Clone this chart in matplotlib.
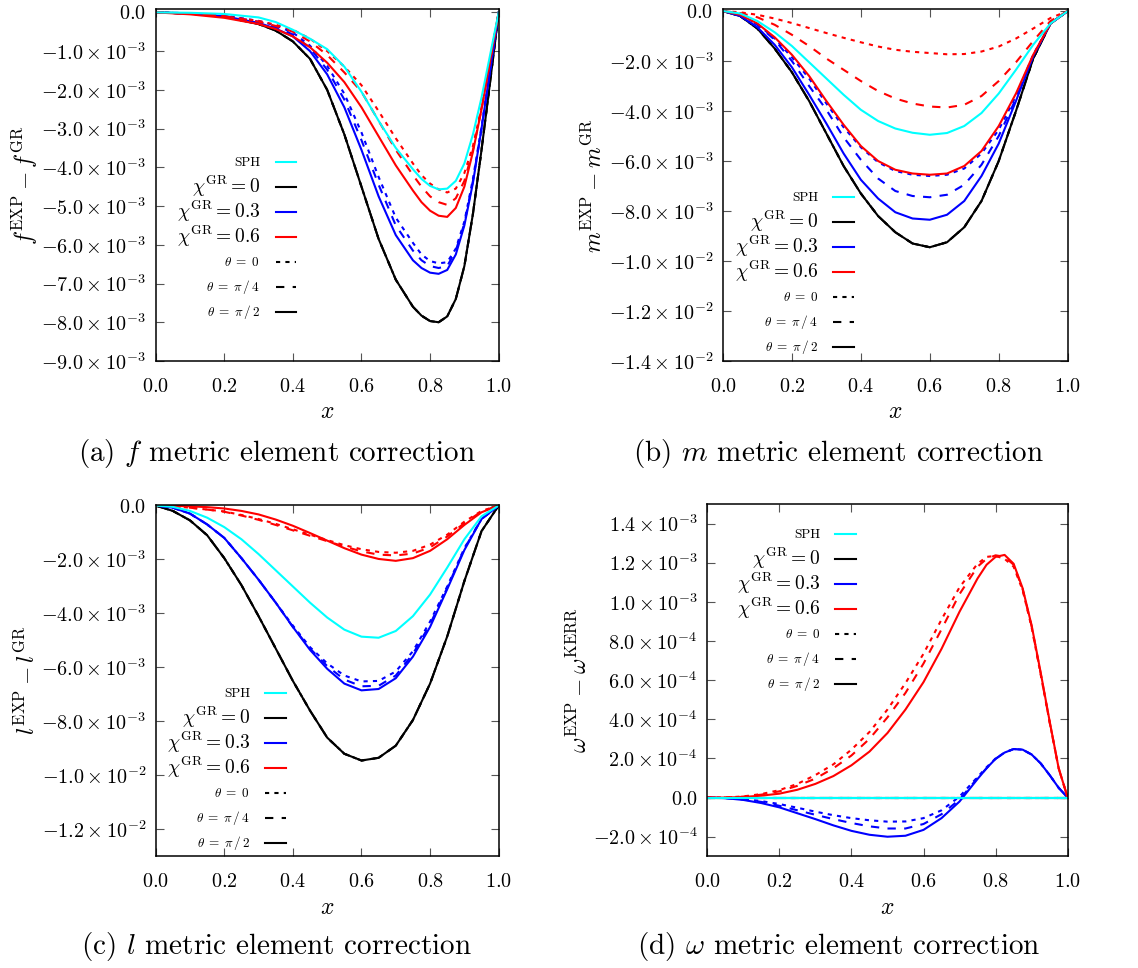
import numpy as np
import matplotlib
matplotlib.use("Agg")
import matplotlib.pyplot as plt
from matplotlib.lines import Line2D
from matplotlib.ticker import FuncFormatter
from matplotlib.transforms import offset_copy

plt.rcParams["font.family"] = "serif"
plt.rcParams["font.serif"] = ["cmr10"]
plt.rcParams["mathtext.fontset"] = "cm"
plt.rcParams["axes.unicode_minus"] = False

# ---- (a) f correction, units of 1e-3
x_a = [0.0, 0.1, 0.2, 0.3, 0.35, 0.4, 0.45, 0.5, 0.55, 0.6, 0.65, 0.7, 0.75,
       0.775, 0.8, 0.825, 0.85, 0.875, 0.9, 0.925, 0.95, 0.975, 1.0]
f_sph = [0, -0.01, -0.04, -0.13, -0.25, -0.45, -0.68, -0.95, -1.4, -2.05, -2.8, -3.5, -4.05,
         -4.3, -4.48, -4.57, -4.55, -4.35, -3.9, -3.15, -2.2, -1.1, 0]
f_chi0 = [0, -0.03, -0.11, -0.3, -0.47, -0.75, -1.2, -2.0, -3.15, -4.5, -5.85, -6.9, -7.6,
          -7.83, -7.97, -8.0, -7.85, -7.4, -6.55, -5.2, -3.55, -1.8, 0]
f_chi3_t0 = [0, -0.02, -0.08, -0.22, -0.34, -0.52, -0.86, -1.38, -2.1, -3.1, -4.25, -5.3, -5.95,
             -6.25, -6.42, -6.48, -6.45, -6.1, -5.4, -4.3, -2.95, -1.5, 0]
f_chi3_t4 = [0, -0.03, -0.09, -0.24, -0.38, -0.57, -0.92, -1.48, -2.25, -3.3, -4.45, -5.5, -6.15,
             -6.4, -6.55, -6.6, -6.55, -6.15, -5.45, -4.35, -3.0, -1.5, 0]
f_chi3_t2 = [0, -0.03, -0.1, -0.27, -0.42, -0.62, -1.0, -1.6, -2.45, -3.55, -4.75, -5.75, -6.4,
             -6.6, -6.72, -6.75, -6.65, -6.25, -5.5, -4.4, -3.0, -1.5, 0]
f_chi6_t0 = [0, -0.03, -0.1, -0.22, -0.32, -0.45, -0.68, -1.0, -1.4, -1.88, -2.55, -3.25, -3.9,
             -4.2, -4.42, -4.57, -4.65, -4.55, -4.15, -3.45, -2.45, -1.25, 0]
f_chi6_t4 = [0, -0.03, -0.1, -0.24, -0.35, -0.5, -0.75, -1.1, -1.55, -2.05, -2.8, -3.55, -4.2,
             -4.5, -4.75, -4.9, -4.97, -4.8, -4.35, -3.55, -2.5, -1.25, 0]
f_chi6_t2 = [0, -0.05, -0.14, -0.3, -0.43, -0.62, -0.9, -1.3, -1.8, -2.45, -3.2, -3.95, -4.6,
             -4.9, -5.12, -5.25, -5.28, -5.05, -4.5, -3.6, -2.5, -1.25, 0]

# ---- (b) m correction, units of 1e-3
x_b = [0.0, 0.05, 0.1, 0.15, 0.2, 0.25, 0.3, 0.35, 0.4, 0.45, 0.5,
       0.55, 0.6, 0.65, 0.7, 0.75, 0.8, 0.85, 0.9, 0.95, 1.0]
m_sph = [0, -0.1, -0.4, -0.85, -1.4, -2.05, -2.7, -3.35, -3.95, -4.4, -4.7,
         -4.87, -4.95, -4.88, -4.6, -4.08, -3.3, -2.35, -1.35, -0.5, 0]
m_chi0 = [0, -0.2, -0.7, -1.5, -2.45, -3.6, -4.9, -6.2, -7.3, -8.2, -8.85,
          -9.3, -9.45, -9.25, -8.65, -7.6, -6.0, -4.0, -1.9, -0.5, 0]
m_chi3_t0 = [0, -0.16, -0.52, -1.1, -1.85, -2.7, -3.7, -4.65, -5.45, -6.05, -6.4,
             -6.55, -6.6, -6.55, -6.3, -5.7, -4.75, -3.4, -1.75, -0.5, 0]
m_chi3_t4 = [0, -0.17, -0.55, -1.15, -2.0, -3.0, -3.95, -5.05, -5.95, -6.7, -7.2,
             -7.4, -7.45, -7.35, -6.95, -6.15, -5.0, -3.5, -1.8, -0.5, 0]
m_chi3_t2 = [0, -0.2, -0.65, -1.35, -2.25, -3.35, -4.5, -5.7, -6.75, -7.5, -8.05,
             -8.3, -8.35, -8.15, -7.6, -6.6, -5.3, -3.6, -1.8, -0.5, 0]
m_chi6_t0 = [0, -0.05, -0.15, -0.3, -0.48, -0.68, -0.88, -1.07, -1.25, -1.42, -1.55,
             -1.63, -1.68, -1.73, -1.72, -1.62, -1.42, -1.1, -0.7, -0.28, 0]
m_chi6_t4 = [0, -0.08, -0.25, -0.55, -0.95, -1.4, -1.9, -2.35, -2.8, -3.2, -3.5,
             -3.7, -3.82, -3.86, -3.75, -3.4, -2.8, -2.05, -1.2, -0.4, 0]
m_chi6_t2 = [0, -0.15, -0.5, -1.05, -1.75, -2.6, -3.6, -4.55, -5.4, -6.0, -6.35,
             -6.5, -6.55, -6.5, -6.2, -5.6, -4.6, -3.3, -1.75, -0.5, 0]

# ---- (c) l correction, units of 1e-3
x_c = x_b
l_sph = [0, -0.05, -0.2, -0.45, -0.8, -1.25, -1.8, -2.4, -3.0, -3.6, -4.15,
         -4.6, -4.86, -4.9, -4.65, -4.1, -3.3, -2.3, -1.25, -0.4, 0]
l_chi0 = [0, -0.2, -0.55, -1.1, -1.95, -2.95, -4.1, -5.3, -6.5, -7.6, -8.6,
          -9.2, -9.45, -9.35, -8.9, -7.95, -6.6, -4.85, -2.8, -0.95, 0]
l_chi3_t0 = [0, -0.08, -0.3, -0.7, -1.2, -1.95, -2.75, -3.6, -4.45, -5.25, -5.85,
             -6.3, -6.52, -6.5, -6.15, -5.4, -4.3, -3.0, -1.58, -0.5, 0]
l_chi3_t4 = [0, -0.08, -0.3, -0.7, -1.2, -1.95, -2.75, -3.6, -4.5, -5.3, -5.95,
             -6.45, -6.7, -6.68, -6.3, -5.5, -4.4, -3.05, -1.6, -0.5, 0]
l_chi3_t2 = [0, -0.08, -0.3, -0.7, -1.2, -1.95, -2.75, -3.6, -4.5, -5.35, -6.05,
             -6.6, -6.85, -6.8, -6.4, -5.6, -4.5, -3.1, -1.65, -0.5, 0]
l_chi6_t0 = [0, -0.03, -0.08, -0.15, -0.22, -0.35, -0.5, -0.68, -0.88, -1.08, -1.28,
             -1.47, -1.62, -1.72, -1.75, -1.68, -1.45, -1.08, -0.6, -0.2, 0]
l_chi6_t4 = [0, -0.03, -0.08, -0.15, -0.23, -0.37, -0.53, -0.72, -0.92, -1.12, -1.32,
             -1.52, -1.7, -1.82, -1.85, -1.78, -1.55, -1.15, -0.65, -0.22, 0]
l_chi6_t2 = [0, -0.01, -0.03, -0.06, -0.11, -0.2, -0.33, -0.52, -0.75, -1.02, -1.3,
             -1.58, -1.82, -1.98, -2.05, -1.95, -1.68, -1.25, -0.72, -0.25, 0]

# ---- (d) omega correction, units of 1e-4
x_d = [0.0, 0.05, 0.1, 0.15, 0.2, 0.25, 0.3, 0.35, 0.4, 0.45, 0.5, 0.55, 0.6, 0.65,
       0.7, 0.75, 0.775, 0.8, 0.825, 0.85, 0.875, 0.9, 0.925, 0.95, 0.975, 1.0]
w_sph = [0] * 26
w_chi0 = [0] * 26
w_chi3_t0 = [0, -0.02, -0.08, -0.18, -0.33, -0.52, -0.72, -0.9, -1.05, -1.16, -1.23, -1.22, -1.05, -0.65,
             0.05, 1.05, 1.55, 2.0, 2.3, 2.48, 2.45, 2.2, 1.75, 1.15, 0.5, 0]
w_chi3_t4 = [0, -0.02, -0.1, -0.22, -0.42, -0.65, -0.88, -1.1, -1.3, -1.47, -1.58, -1.58, -1.35, -0.85,
             -0.1, 1.0, 1.5, 1.98, 2.3, 2.48, 2.45, 2.2, 1.75, 1.15, 0.5, 0]
w_chi3_t2 = [0, -0.03, -0.12, -0.28, -0.5, -0.8, -1.1, -1.42, -1.7, -1.9, -2.0, -1.95, -1.65, -1.05,
             -0.2, 0.95, 1.5, 1.98, 2.3, 2.48, 2.45, 2.2, 1.75, 1.15, 0.5, 0]
w_chi6_t0 = [0, 0.0, 0.06, 0.18, 0.38, 0.7, 1.15, 1.7, 2.45, 3.35, 4.5, 5.85, 7.35, 9.1,
             10.75, 11.95, 12.3, 12.35, 12.2, 11.8, 10.6, 8.7, 6.3, 3.85, 1.5, 0]
w_chi6_t4 = [0, 0.0, 0.05, 0.15, 0.32, 0.6, 0.97, 1.5, 2.15, 3.0, 4.1, 5.35, 6.85, 8.6,
             10.4, 11.8, 12.2, 12.38, 12.3, 11.9, 10.65, 8.75, 6.35, 3.85, 1.5, 0]
w_chi6_t2 = [0, 0.0, 0.03, 0.1, 0.2, 0.4, 0.7, 1.1, 1.65, 2.35, 3.3, 4.5, 5.9, 7.6,
             9.5, 11.2, 11.9, 12.3, 12.4, 11.95, 10.7, 8.8, 6.4, 3.9, 1.5, 0]

captions = [r"(a) $f$ metric element correction",
            r"(b) $m$ metric element correction",
            r"(c) $l$ metric element correction",
            r"(d) $\omega$ metric element correction"]
ylabels = [r"$f^{\rm EXP} - f^{\rm GR}$",
           r"$m^{\rm EXP} - m^{\rm GR}$",
           r"$l^{\rm EXP} - l^{\rm GR}$",
           r"$\omega^{\rm EXP} - \omega^{\rm KERR}$"]
key_labels = ["SPH", r"$\chi^{\rm GR} = 0$", r"$\chi^{\rm GR} = 0.3$",
              r"$\chi^{\rm GR} = 0.6$", r"$\theta\;=\;0$", r"$\theta\;=\;\pi\,/\,4$",
              r"$\theta\;=\;\pi\,/\,2$"]

DOT = (0, (2, 2.5))
DASH = (0, (4, 4))
CYAN = "#00ffff"
BLUE = "#0000ff"
RED = "#ff0000"
LW = 1.5


def sci_fmt(v, pos):
    if abs(v) < 1e-12:
        return "$0.0$"
    e = int(np.floor(np.log10(abs(v)) + 1e-9))
    m = v / 10.0 ** e
    return r"$%.1f\times10^{%d}$" % (m, e)


def draw_panel(ax, xs, scale, sph, chi0, chi3, chi6):
    xs = np.array(xs)
    for style in [DOT, DASH, "-"]:
        ax.plot(xs, np.array(chi0) * scale, color="black", lw=LW, ls=style)
    for ys, style in zip(chi3, [DOT, DASH, "-"]):
        ax.plot(xs, np.array(ys) * scale, color=BLUE, lw=LW, ls=style)
    for ys, style in zip(chi6, [DOT, DASH, "-"]):
        ax.plot(xs, np.array(ys) * scale, color=RED, lw=LW, ls=style)
    ax.plot(xs, np.array(sph) * scale, color=CYAN, lw=LW)


def style_axes(ax, ylim, yticks, ylabel):
    ax.set_xlim(0, 1)
    ax.set_ylim(ylim)
    ax.set_xticks([0.0, 0.2, 0.4, 0.6, 0.8, 1.0])
    ax.xaxis.set_major_formatter(FuncFormatter(lambda v, p: "$%.1f$" % v))
    ax.set_yticks(yticks)
    ax.yaxis.set_major_formatter(FuncFormatter(sci_fmt))
    ax.tick_params(direction="in", top=True, right=True, length=6,
                   width=0.8, labelsize=14.5, color="#555555")
    ax.tick_params(axis="x", pad=12)
    ax.tick_params(axis="y", pad=7)
    ax.set_xlabel("$x$", fontsize=17, labelpad=4)
    ax.set_ylabel(ylabel, fontsize=17, labelpad=1)
    for s in ax.spines.values():
        s.set_linewidth(1.1)


def add_key(ax, x_text, x0, x1, y_top, dy=0.071):
    # gnuplot style key: right aligned text, sample line on the right
    styles = [(CYAN, "-", 9.5), ("black", "-", 14), (BLUE, "-", 14), (RED, "-", 14),
              ("black", DOT, 9.5), ("black", DASH, 9.5), ("black", "-", 9.5)]
    for i, (lab, (c, ls, fs)) in enumerate(zip(key_labels, styles)):
        y = y_top - i * dy
        tr = offset_copy(ax.transAxes, fig=ax.figure, y=-0.3 * fs, units="points")
        ax.text(x_text, y, lab, transform=tr, ha="right", va="baseline", fontsize=fs)
        ax.add_line(Line2D([x0, x1], [y, y], transform=ax.transAxes, color=c,
                           lw=LW, ls=ls, clip_on=False))


fig = plt.figure(figsize=(11.38, 9.68), dpi=100)
ax_a = fig.add_axes([0.1368, 0.6271, 0.3014, 0.3633])
ax_b = fig.add_axes([0.6353, 0.6271, 0.3029, 0.3633])
ax_c = fig.add_axes([0.1368, 0.1154, 0.3014, 0.3632])
ax_d = fig.add_axes([0.6215, 0.1154, 0.3167, 0.3639])

draw_panel(ax_a, x_a, 1e-3, f_sph, f_chi0, [f_chi3_t0, f_chi3_t4, f_chi3_t2],
           [f_chi6_t0, f_chi6_t4, f_chi6_t2])
draw_panel(ax_b, x_b, 1e-3, m_sph, m_chi0, [m_chi3_t0, m_chi3_t4, m_chi3_t2],
           [m_chi6_t0, m_chi6_t4, m_chi6_t2])
draw_panel(ax_c, x_c, 1e-3, l_sph, l_chi0, [l_chi3_t0, l_chi3_t4, l_chi3_t2],
           [l_chi6_t0, l_chi6_t4, l_chi6_t2])
draw_panel(ax_d, x_d, 1e-4, w_sph, w_chi0, [w_chi3_t0, w_chi3_t4, w_chi3_t2],
           [w_chi6_t0, w_chi6_t4, w_chi6_t2])

style_axes(ax_a, (-9e-3, 0.08e-3), np.round(np.arange(0, -9.5, -1.0), 1) * 1e-3, ylabels[0])
style_axes(ax_b, (-14e-3, 0.07e-3), np.round(np.arange(0, -14.5, -2.0), 1) * 1e-3, ylabels[1])
style_axes(ax_c, (-13e-3, 0.03e-3), np.round(np.arange(0, -12.5, -2.0), 1) * 1e-3, ylabels[2])
style_axes(ax_d, (-3e-4, 15e-4), np.round(np.arange(-2, 14.5, 2.0), 1) * 1e-4, ylabels[3])

add_key(ax_a, 0.304, 0.351, 0.409, 0.566)
add_key(ax_b, 0.276, 0.319, 0.380, 0.466)
add_key(ax_c, 0.275, 0.319, 0.380, 0.464)
add_key(ax_d, 0.313, 0.354, 0.412, 0.915)

fig.text(0.243, 0.532, captions[0], ha="center", va="center", fontsize=21)
fig.text(0.737, 0.532, captions[1], ha="center", va="center", fontsize=21)
fig.text(0.243, 0.022, captions[2], ha="center", va="center", fontsize=21)
fig.text(0.737, 0.022, captions[3], ha="center", va="center", fontsize=21)

fig.savefig("out.png", dpi=100)
